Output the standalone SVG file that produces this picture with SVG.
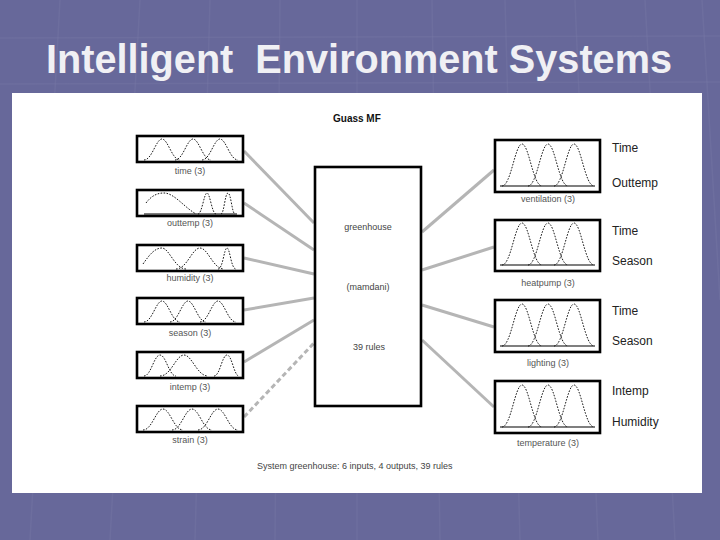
<svg xmlns="http://www.w3.org/2000/svg" width="720" height="540" viewBox="0 0 720 540">
<style>
.box{fill:#fff;stroke:#000;stroke-width:2.6}
.mf{fill:none;stroke:#000;stroke-width:0.9;stroke-dasharray:1.6 1.4}
.base{stroke:#000;stroke-width:1.2}
.lbl{font-family:"Liberation Sans",Arial,sans-serif;font-size:9px;fill:#555;text-anchor:middle}
.side{font-family:"Liberation Sans",Arial,sans-serif;font-size:12px;fill:#222}
.ctr{font-family:"Liberation Sans",Arial,sans-serif;font-size:9px;fill:#444;text-anchor:middle}
.con{fill:none;stroke:#b5b5b5;stroke-width:3}
.bg{stroke:#7a7ba8;stroke-width:1.5;opacity:0.35}
</style>
<defs>
<g id="outmf">
<line class="base" x1="6" y1="47" x2="101" y2="47"/>
<path class="mf" d="M8,47 C17,47 21,5 28,5 S39,47 48,47"/>
<path class="mf" d="M34,47 C43,47 47,5 54,5 S65,47 74,47"/>
<path class="mf" d="M60,47 C69,47 73,5 80,5 S91,47 100,47"/>
</g>
</defs>
<rect x="0" y="0" width="720" height="540" fill="#67689a"/>
<g id="bg-lines">
<line class="bg" x1="0" y1="38" x2="720" y2="36"/>
<line class="bg" x1="0" y1="84" x2="720" y2="82"/>
<line class="bg" x1="60" y1="0" x2="30" y2="540"/>
<line class="bg" x1="140" y1="0" x2="110" y2="540"/>
<line class="bg" x1="210" y1="0" x2="195" y2="540"/>
<line class="bg" x1="280" y1="0" x2="275" y2="540"/>
<line class="bg" x1="357" y1="0" x2="357" y2="540"/>
<line class="bg" x1="432" y1="0" x2="440" y2="540"/>
<line class="bg" x1="505" y1="0" x2="520" y2="540"/>
<line class="bg" x1="575" y1="0" x2="598" y2="540"/>
<line class="bg" x1="645" y1="0" x2="675" y2="540"/>
<line class="bg" x1="702" y1="0" x2="720" y2="300"/>
</g>
<text x="46" y="73" xml:space="preserve" font-family="'Liberation Sans',Arial,sans-serif" font-weight="bold" font-size="40" fill="#f0f0f4" textLength="626" lengthAdjust="spacingAndGlyphs">Intelligent  Environment Systems</text>
<rect x="12" y="93" width="690" height="400" fill="#fff"/>
<text x="333" y="122" font-family="'Liberation Sans',Arial,sans-serif" font-weight="bold" font-size="10" fill="#111">Guass MF</text>
<g id="connectors">
<line class="con" x1="244" y1="151" x2="314" y2="223"/>
<line class="con" x1="244" y1="203" x2="314" y2="250"/>
<line class="con" x1="244" y1="258" x2="314" y2="274"/>
<line class="con" x1="244" y1="310" x2="314" y2="298"/>
<line class="con" x1="244" y1="362" x2="314" y2="320"/>
<line class="con" x1="244" y1="417" x2="314" y2="343" stroke-dasharray="5 3"/>
<line class="con" x1="422" y1="232" x2="494" y2="170"/>
<line class="con" x1="422" y1="270" x2="494" y2="247"/>
<line class="con" x1="422" y1="305" x2="494" y2="327"/>
<line class="con" x1="422" y1="340" x2="494" y2="407"/>
</g>
<g id="greenhouse">
<rect class="box" x="315" y="167" width="106" height="239"/>
<text class="ctr" x="368" y="230">greenhouse</text>
<text class="ctr" x="368" y="290">(mamdani)</text>
<text class="ctr" x="369" y="350">39 rules</text>
</g>
<g id="in-time" transform="translate(136,135)">
<rect class="box" x="1" y="1" width="106" height="26"/>
<path class="mf" d="M8,25 C16,25 20,4 26,4 S36,25 44,25"/>
<path class="mf" d="M39,25 C47,25 51,4 57,4 S67,25 75,25"/>
<path class="mf" d="M66,25 C74,25 78,4 84,4 S94,25 102,25"/>
<text class="lbl" x="54" y="39">time (3)</text>
</g>
<g id="in-outtemp" transform="translate(136,189)">
<rect class="box" x="1" y="1" width="106" height="26"/>
<line class="base" x1="8" y1="25" x2="101" y2="25"/>
<path class="mf" d="M10,14 C16,6 22,4 28,4 C38,4 48,18 60,25"/>
<path class="mf" d="M62,25 C66,25 68,4 71,4 S76,25 80,25"/>
<path class="mf" d="M85,25 C88,25 89,4 92,4 S96,25 99,25"/>
<text class="lbl" x="54" y="37">outtemp (3)</text>
</g>
<g id="in-humidity" transform="translate(136,244)">
<rect class="box" x="1" y="1" width="106" height="26"/>
<path class="mf" d="M7,20 C14,10 19,4 26,4 S39,25 50,25"/>
<path class="mf" d="M40,25 C51,25 56,4 64,4 S77,25 88,25"/>
<path class="mf" d="M82,25 C87,25 88,4 91,4 S95,25 100,25"/>
<text class="lbl" x="54" y="37">humidity (3)</text>
</g>
<g id="in-season" transform="translate(136,297)">
<rect class="box" x="1" y="1" width="106" height="26"/>
<path class="mf" d="M8,25 C16,25 20,4 26,4 S36,25 44,25"/>
<path class="mf" d="M34,25 C42,25 46,4 52,4 S62,25 70,25"/>
<path class="mf" d="M64,25 C72,25 76,4 82,4 S92,25 100,25"/>
<text class="lbl" x="54" y="39">season (3)</text>
</g>
<g id="in-intemp" transform="translate(136,351)">
<rect class="box" x="1" y="1" width="106" height="26"/>
<path class="mf" d="M8,25 C15,25 18,4 24,4 S33,25 40,25"/>
<path class="mf" d="M24,25 C35,25 40,4 48,4 S61,25 72,25"/>
<path class="mf" d="M78,25 C84,25 86,4 91,4 S98,25 103,25"/>
<text class="lbl" x="54" y="39">intemp (3)</text>
</g>
<g id="in-strain" transform="translate(136,405)">
<rect class="box" x="1" y="1" width="106" height="26"/>
<path class="mf" d="M7,25 C16,25 20,4 27,4 S38,25 47,25"/>
<path class="mf" d="M36,25 C45,25 49,4 56,4 S67,25 76,25"/>
<path class="mf" d="M62,25 C71,25 75,4 82,4 S93,25 102,25"/>
<text class="lbl" x="54" y="38">strain (3)</text>
</g>
<g id="out-ventilation" transform="translate(494,139)">
<rect class="box" x="1" y="1" width="105" height="52"/>
<use href="#outmf"/>
<text class="lbl" x="54" y="63">ventilation (3)</text>
</g>
<g id="out-heatpump" transform="translate(494,219)">
<rect class="box" x="1" y="1" width="105" height="51"/>
<use href="#outmf" transform="translate(0,-1)"/>
<text class="lbl" x="54" y="67">heatpump (3)</text>
</g>
<g id="out-lighting" transform="translate(494,299)">
<rect class="box" x="1" y="1" width="105" height="52"/>
<use href="#outmf"/>
<text class="lbl" x="54" y="67">lighting (3)</text>
</g>
<g id="out-temperature" transform="translate(494,380)">
<rect class="box" x="1" y="1" width="105" height="52"/>
<use href="#outmf"/>
<text class="lbl" x="54" y="66">temperature (3)</text>
</g>
<g id="rule-labels">
<text class="side" x="612" y="152">Time</text>
<text class="side" x="612" y="187">Outtemp</text>
<text class="side" x="612" y="235">Time</text>
<text class="side" x="612" y="265">Season</text>
<text class="side" x="612" y="315">Time</text>
<text class="side" x="612" y="345">Season</text>
<text class="side" x="612" y="395">Intemp</text>
<text class="side" x="612" y="426">Humidity</text>
</g>
<text x="257" y="469" font-family="'Liberation Sans',Arial,sans-serif" font-size="9" fill="#444">System greenhouse: 6 inputs, 4 outputs, 39 rules</text>
</svg>
